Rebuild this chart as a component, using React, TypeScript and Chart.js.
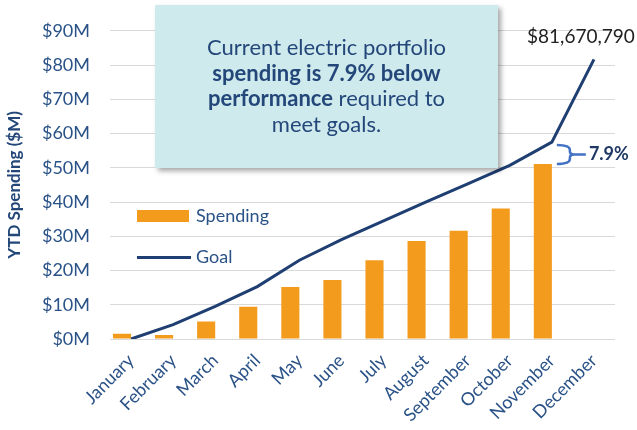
import React, { useEffect, useRef } from "react";
import { Chart, registerables } from "chart.js";

Chart.register(...registerables);

const months = [
  "January", "February", "March", "April", "May", "June",
  "July", "August", "September", "October", "November", "December",
];
// YTD spending, $M
const spending = [1.5, 1.2, 5.1, 9.4, 15.2, 17.2, 23.0, 28.6, 31.6, 38.1, 51.1, null];
// YTD goal, $M
const goal = [0, 4.2, 9.5, 15.3, 23.0, 29.0, 34.5, 40.0, 45.3, 50.7, 57.5, 81.67];
const yMin = 0;
const yMax = 90;
const yStep = 10;
const yTitle = "YTD Spending ($M)";
const goalTotalLabel = "$81,670,790";
const gapLabel = "7.9%";
const calloutLines = [
  [{ t: "Current electric portfolio", b: false }],
  [{ t: "spending is 7.9% below", b: true }],
  [{ t: "performance", b: true }, { t: " required to", b: false }],
  [{ t: "meet goals.", b: false }],
];
const legendItems = ["Spending", "Goal"];

const FONT = "Lato, 'Open Sans', sans-serif";
const BLUE_TEXT = "#2a5287";
const NAVY = "#1f3f73";
const ORANGE = "#f29b1d";
const GRID = "#d9d9d9";

const overlayPlugin = {
  id: "overlay",
  afterDatasetsDraw(chart: any) {
    const ctx = chart.ctx as CanvasRenderingContext2D;
    const xs = chart.scales.x;
    const ys = chart.scales.y;

    // Callout box
    const bx = 155, by = 5, bw = 343, bh = 163;
    ctx.save();
    ctx.shadowColor = "rgba(0,0,0,0.35)";
    ctx.shadowBlur = 5;
    ctx.shadowOffsetX = 3;
    ctx.shadowOffsetY = 3;
    ctx.fillStyle = "#cfeaed";
    ctx.fillRect(bx, by, bw, bh);
    ctx.restore();

    ctx.save();
    const fs = 22;
    const lh = 25.7;
    const cx = bx + bw / 2;
    const cy = by + bh / 2;
    ctx.textBaseline = "middle";
    ctx.fillStyle = "#24477a";
    calloutLines.forEach((runs, i) => {
      const y = cy + (i - (calloutLines.length - 1) / 2) * lh;
      let total = 0;
      runs.forEach((r) => {
        ctx.font = `${r.b ? "bold " : ""}${fs}px ${FONT}`;
        total += ctx.measureText(r.t).width;
      });
      let x = cx - total / 2;
      ctx.textAlign = "left";
      runs.forEach((r) => {
        ctx.font = `${r.b ? "bold " : ""}${fs}px ${FONT}`;
        ctx.fillText(r.t, x, y);
        x += ctx.measureText(r.t).width;
      });
    });
    ctx.restore();

    // Legend
    ctx.save();
    ctx.fillStyle = ORANGE;
    ctx.fillRect(137, 210, 52, 12);
    ctx.strokeStyle = NAVY;
    ctx.lineWidth = 3;
    ctx.beginPath();
    ctx.moveTo(137, 257.5);
    ctx.lineTo(191, 257.5);
    ctx.stroke();
    ctx.fillStyle = BLUE_TEXT;
    ctx.font = `18px ${FONT}`;
    ctx.textBaseline = "middle";
    ctx.textAlign = "left";
    ctx.fillText(legendItems[0], 196, 216);
    ctx.fillText(legendItems[1], 196, 257);
    ctx.restore();

    // Goal total label
    const last = goal.length - 1;
    const px = xs.getPixelForValue(last);
    const py = ys.getPixelForValue(goal[last]);
    ctx.save();
    ctx.fillStyle = "#222222";
    ctx.font = `19px ${FONT}`;
    ctx.textAlign = "center";
    ctx.textBaseline = "middle";
    ctx.fillText(goalTotalLabel, px - 13, py - 22);
    ctx.restore();

    // Gap bracket at November
    const ni = 10;
    const nx = xs.getPixelForValue(ni);
    const yT = ys.getPixelForValue(goal[ni]) + 3;
    const yB = ys.getPixelForValue(spending[ni] as number);
    const yM = (yT + yB) / 2;
    const x1 = nx + 5;
    const x2 = nx + 18;
    ctx.save();
    ctx.strokeStyle = "#4472c4";
    ctx.lineWidth = 2.5;
    ctx.beginPath();
    ctx.moveTo(x1, yT);
    ctx.quadraticCurveTo(x2, yT, x2, yT + 5);
    ctx.lineTo(x2, yM - 3);
    ctx.quadraticCurveTo(x2, yM, x2 + 4, yM);
    ctx.lineTo(x2 + 16, yM);
    ctx.moveTo(x2 + 4, yM);
    ctx.quadraticCurveTo(x2, yM, x2, yM + 3);
    ctx.lineTo(x2, yB - 5);
    ctx.quadraticCurveTo(x2, yB, x1, yB);
    ctx.stroke();
    ctx.fillStyle = "#1f3864";
    ctx.font = `bold 18px ${FONT}`;
    ctx.textAlign = "left";
    ctx.textBaseline = "middle";
    ctx.fillText(gapLabel, x2 + 19, yM);
    ctx.restore();
  },
};

export default function App() {
  const ref = useRef<HTMLCanvasElement>(null);
  useEffect(() => {
    if (!ref.current) return;
    const chart = new Chart(ref.current, {
      type: "bar",
      data: {
        labels: months,
        datasets: [
          {
            type: "line",
            label: "Goal",
            data: goal,
            borderColor: NAVY,
            borderWidth: 3,
            pointRadius: 0,
            tension: 0,
            order: 0,
          } as any,
          {
            type: "bar",
            label: "Spending",
            data: spending,
            backgroundColor: ORANGE,
            categoryPercentage: 0.86,
            barPercentage: 1,
            order: 1,
          },
          {
            type: "bar",
            label: "",
            data: [],
            backgroundColor: "rgba(0,0,0,0)",
            categoryPercentage: 0.86,
            barPercentage: 1,
            order: 2,
          },
        ],
      },
      options: {
        responsive: false,
        animation: false,
        layout: { padding: { top: 27, right: 22, bottom: 0, left: 0 } },
        plugins: {
          legend: { display: false },
          tooltip: { enabled: false },
        },
        scales: {
          x: {
            grid: { display: false, drawTicks: false },
            border: { display: false },
            ticks: {
              color: BLUE_TEXT,
              font: { family: FONT, size: 18 },
              minRotation: 45,
              maxRotation: 45,
              padding: 11,
              autoSkip: false,
            },
            afterFit: (s: any) => {
              s.height = 91;
            },
          },
          y: {
            min: yMin,
            max: yMax,
            grid: { color: GRID, drawTicks: false, lineWidth: 1 },
            border: { display: false },
            ticks: {
              stepSize: yStep,
              color: BLUE_TEXT,
              font: { family: FONT, size: 18 },
              padding: 20,
              callback: (v: any) => `$${v}M`,
            },
            title: {
              display: true,
              text: yTitle,
              color: "#24477a",
              font: { family: FONT, size: 17, weight: "bold" },
              padding: { top: 4, bottom: 0 },
            },
            afterFit: (s: any) => {
              s.width = 110;
            },
          },
        },
      },
      plugins: [overlayPlugin],
    });
    return () => chart.destroy();
  }, []);
  return (
    <div style={{ position: "fixed", left: 0, top: 0, width: 637, height: 430, background: "#fff" }}>
      <canvas ref={ref} width={637} height={430} style={{ display: "block" }} />
    </div>
  );
}
